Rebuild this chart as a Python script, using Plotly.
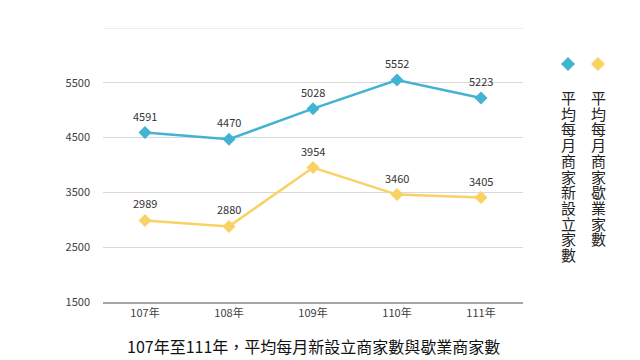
import plotly.graph_objects as go

years = ["107年", "108年", "109年", "110年", "111年"]
new_name = "平均每月商家新設立家數"
close_name = "平均每月商家歇業家數"
new_vals = [4591, 4470, 5028, 5552, 5223]
close_vals = [2989, 2880, 3954, 3460, 3405]
y_ticks = [1500, 2500, 3500, 4500, 5500, 6500]
y_labels = ["1500", "2500", "3500", "4500", "5500", ""]
title = "107年至111年，平均每月新設立商家數與歇業商家數"

blue = "#42b4d2"
yellow = "#f8d263"
font = "Noto Sans CJK TC, Open Sans, sans-serif"

fig = go.Figure()
for name, vals, col in [(new_name, new_vals, blue), (close_name, close_vals, yellow)]:
    fig.add_trace(go.Scatter(
        x=years, y=vals, name=name, mode="lines+markers",
        line=dict(color=col, width=2.5),
        marker=dict(symbol="diamond", size=10, color=col),
        showlegend=False, cliponaxis=False,
    ))
    for xv, v in zip(years, vals):
        fig.add_annotation(x=xv, y=v, text=str(v), showarrow=False, yshift=17,
                           xanchor="center", yanchor="middle",
                           font=dict(size=11, color="#333333", family=font))

fig.update_layout(
    width=640, height=360,
    margin=dict(l=103, r=117, t=28, b=58),
    paper_bgcolor="white", plot_bgcolor="white",
    font=dict(family=font, color="#404040"),
    xaxis=dict(range=[-0.5, 4.5], showgrid=False, showline=True, linecolor="#a6a6a6",
               linewidth=1.5, ticks="", tickfont=dict(size=11, color="#404040")),
    yaxis=dict(range=[1500, 6500], tickvals=y_ticks, ticktext=y_labels,
               showgrid=True, gridcolor="#d9d9d9", gridwidth=1, zeroline=False,
               showline=False, ticks="", ticklabelstandoff=12,
               tickfont=dict(size=11, color="#404040")),
)

# top gridline (6500) drawn explicitly so it is not hidden at the range edge
fig.add_shape(type="line", xref="paper", yref="y", x0=0, x1=1, y0=y_ticks[-1], y1=y_ticks[-1],
              line=dict(color="#d9d9d9", width=1))

fig.add_annotation(text=title, xref="paper", yref="paper", x=0.5, y=-0.16,
                   xanchor="center", yanchor="middle", showarrow=False,
                   font=dict(size=16, color="#111111", family=font))

# vertical legend: diamond marker plus one character per row
legend_items = [(new_name, blue, 568), (close_name, yellow, 598)]
for name, col, px in legend_items:
    xc = (px - 103) / 420
    yc = 1 - (64 - 28) / 274
    hx = 7 / 420
    hy = 7 / 274
    fig.add_shape(type="path", xref="paper", yref="paper",
                  path=f"M {xc - hx} {yc} L {xc} {yc + hy} L {xc + hx} {yc} L {xc} {yc - hy} Z",
                  fillcolor=col, line=dict(width=0))
    for i, ch in enumerate(name):
        py = 97.5 + i * 15.7
        fig.add_annotation(text=ch, xref="paper", yref="paper",
                           x=xc, y=1 - (py - 28) / 274, xanchor="center", yanchor="middle",
                           showarrow=False, borderpad=0,
                           font=dict(size=15, color="#222222", family=font))

fig.write_html("out.html", config={"displayModeBar": False},
               post_script="document.body.style.margin='0';")
